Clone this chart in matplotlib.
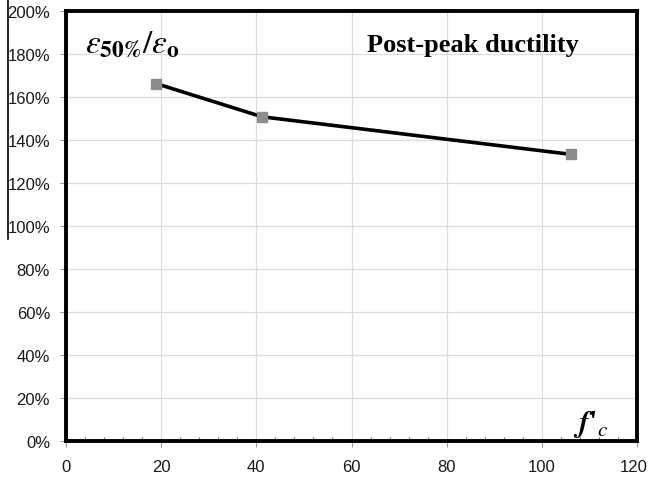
import matplotlib
matplotlib.use("Agg")
import matplotlib.pyplot as plt
from matplotlib.ticker import MultipleLocator, FuncFormatter
from matplotlib.lines import Line2D
from matplotlib.transforms import ScaledTranslation

fc = [19, 41.2, 106.2]
ductility = [166.2, 150.8, 133.3]
x_ticks = [0, 20, 40, 60, 80, 100, 120]
y_ticks = [0, 20, 40, 60, 80, 100, 120, 140, 160, 180, 200]

plt.rcParams['mathtext.fontset'] = 'stix'
fig = plt.figure(figsize=(6.49, 4.81), dpi=100)
ax = fig.add_axes([66/649, 39/481, 571/649, 430/481])

ax.plot(fc, ductility, color='black', lw=2.6, zorder=3)
ax.plot(fc, ductility, ls='none', marker='s', ms=7.5, mfc='#8c8c8c', mec='#8c8c8c', zorder=4)

ax.set_xlim(0, 120)
ax.set_ylim(0, 200)
ax.set_xticks(x_ticks)
ax.set_yticks(y_ticks)
ax.yaxis.set_major_formatter(FuncFormatter(lambda v, p: f"{int(v)}%"))
ax.xaxis.set_minor_locator(MultipleLocator(4))
ax.grid(True, which='major', color='#dcdcdc', lw=0.9)
ax.set_axisbelow(True)

for s in ax.spines.values():
    s.set_linewidth(2.8)
    s.set_color('black')

ax.tick_params(axis='both', which='major', direction='out', length=4, width=0.8,
               color='#999999', labelsize=12, labelcolor='#1a1a1a')
ax.tick_params(axis='y', which='major', pad=7.5)
ax.tick_params(axis='x', which='major', pad=9)
ax.tick_params(axis='x', which='minor', direction='in', length=3, width=0.8, color='#666666')
for lab in ax.get_xticklabels() + ax.get_yticklabels():
    lab.set_fontfamily('Liberation Sans')
last = ax.get_xticklabels()[-1]
last.set_transform(last.get_transform() + ScaledTranslation(-3/100, 0, fig.dpi_scale_trans))

ax.text(0.527, 0.923, 'Post-peak ductility', transform=ax.transAxes,
        fontfamily='Liberation Serif', fontweight='bold', fontsize=19, va='center', ha='left')
ax.text(0.033, 0.928, r'$\varepsilon_{\mathbf{50\%}}/\varepsilon_{\mathbf{o}}$', transform=ax.transAxes,
        fontsize=24, va='center', ha='left')
ax.text(0.888, 0.04, r"$\boldsymbol{f}$'$_{c}$", transform=ax.transAxes,
        fontsize=22, va='center', ha='left', fontfamily='Liberation Serif', fontweight='bold')

fig.add_artist(Line2D([8/649, 8/649], [1, 1 - 240/481], transform=fig.transFigure,
                      color='black', lw=1.2))

fig.savefig('out.png', dpi=100)
